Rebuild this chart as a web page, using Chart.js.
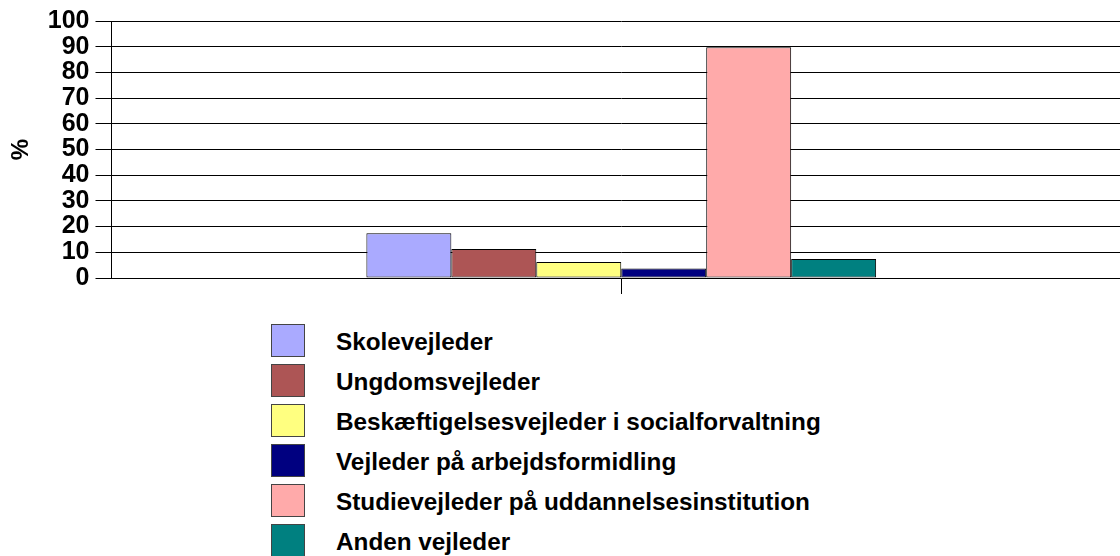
<!DOCTYPE html>
<html>
<head>
<meta charset="utf-8">
<script src="https://cdn.jsdelivr.net/npm/chart.js@4/dist/chart.umd.min.js"></script>
<style>
  html, body { margin: 0; padding: 0; background: #fff; overflow: hidden; }
  #wrap { position: relative; width: 1120px; height: 556px; overflow: hidden; }
  #plot { position: absolute; left: 0; top: 0; width: 1131px; height: 299px; }
  #legend { position: absolute; left: 271px; top: 324px; font-family: "Liberation Sans", Arial, sans-serif; font-weight: bold; font-size: 24.3px; color: #000; }
  .item { position: relative; height: 40px; }
  .box { position: absolute; left: 0; top: 0; width: 32px; height: 31px; border: 1px solid #444; }
  .txt { position: absolute; left: 65px; top: 1px; line-height: 33px; white-space: nowrap; }
</style>
</head>
<body>
<div id="wrap">
  <div id="plot"><canvas id="chart"></canvas></div>
  <div id="legend"></div>
</div>
<script>
var categories = [""];
var seriesNames = [
  "Skolevejleder",
  "Ungdomsvejleder",
  "Beskæftigelsesvejleder i socialforvaltning",
  "Vejleder på arbejdsformidling",
  "Studievejleder på uddannelsesinstitution",
  "Anden vejleder"
];
var seriesValues = [17.4, 11.3, 6.2, 3.7, 89.8, 7.4];
var seriesColors = ["#aaaaff", "#ad5555", "#ffff80", "#000080", "#ffaaaa", "#008080"];
var yTicks = [0, 10, 20, 30, 40, 50, 60, 70, 80, 90, 100];

var datasets = seriesNames.map(function (name, i) {
    return {
        label: name,
        data: [seriesValues[i]],
        backgroundColor: seriesColors[i],
        borderColor: "#000",
        borderWidth: 1,
        borderSkipped: false,
        categoryPercentage: 0.5,
        barPercentage: 1.0
    };
});

var chart = new Chart(document.getElementById("chart"), {
    type: "bar",
    data: { labels: categories, datasets: datasets },
    options: {
        responsive: true,
        maintainAspectRatio: false,
        animation: false,
        layout: { padding: { top: 16, right: 0, left: 0, bottom: 0 } },
        plugins: { legend: { display: false }, tooltip: { enabled: false } },
        scales: {
            x: {
                grid: { display: true, offset: false, drawOnChartArea: false, drawTicks: true, tickLength: 16, color: "#000", lineWidth: 1 },
                border: { display: true, color: "#000", width: 1 },
                ticks: { display: false }
            },
            y: {
                min: 0,
                max: 100,
                afterBuildTicks: function (axis) {
                    axis.ticks = yTicks.map(function (v) { return { value: v }; });
                },
                grid: { color: "#000", lineWidth: 1, tickLength: 16 },
                border: { display: true, color: "#000", width: 1 },
                ticks: {
                    autoSkip: false,
                    padding: 6,
                    color: "#000",
                    font: { family: "'Liberation Sans', Arial, sans-serif", size: 25, weight: "bold" }
                },
                title: {
                    display: true,
                    text: "%",
                    color: "#000",
                    padding: { top: 7, bottom: 6 },
                    font: { family: "'Liberation Sans', Arial, sans-serif", size: 24, weight: "bold" }
                }
            }
        }
    }
});

var legend = document.getElementById("legend");
seriesNames.forEach(function (name, i) {
    var item = document.createElement("div");
    item.className = "item";
    var box = document.createElement("div");
    box.className = "box";
    box.style.background = seriesColors[i];
    var txt = document.createElement("div");
    txt.className = "txt";
    txt.textContent = name;
    item.appendChild(box);
    item.appendChild(txt);
    legend.appendChild(item);
});
</script>
</body>
</html>
